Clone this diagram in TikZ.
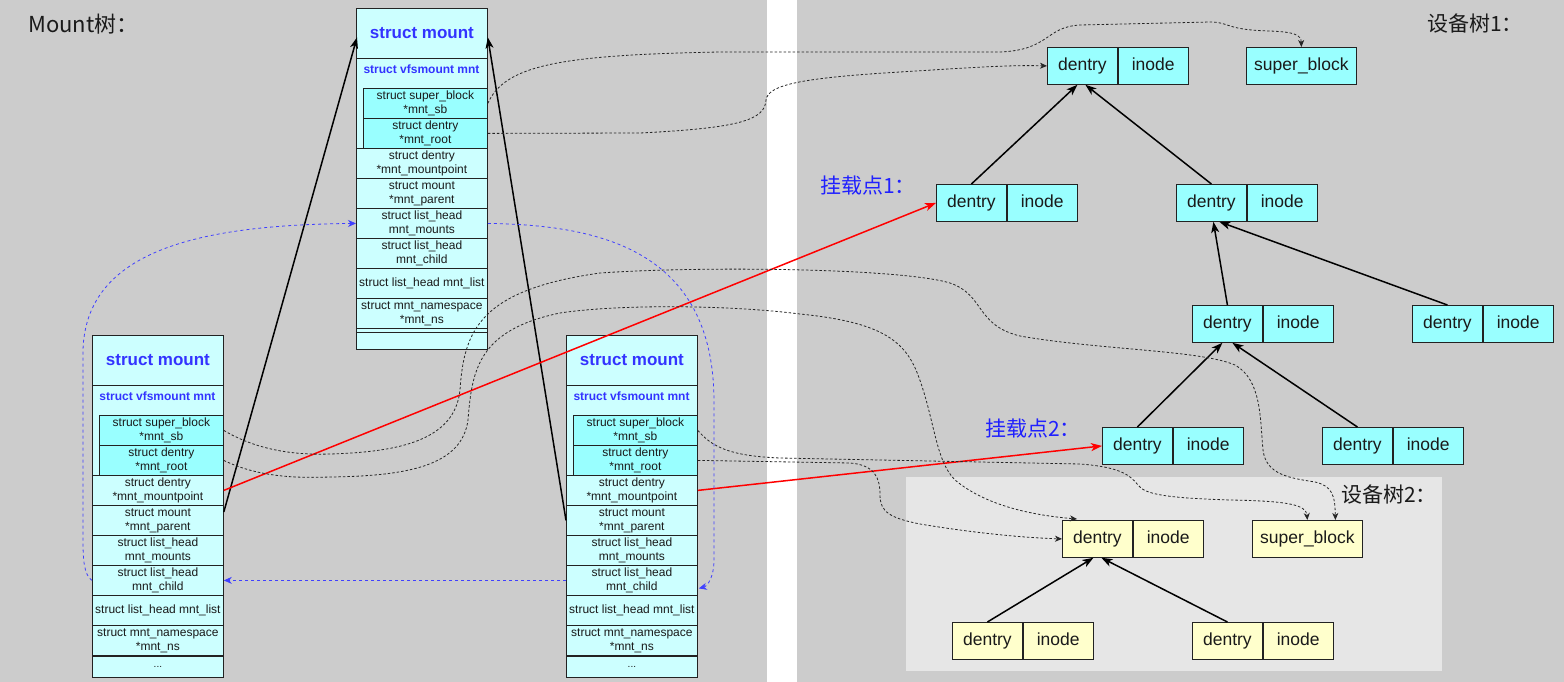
\documentclass[tikz,border=0pt]{standalone}
\usepackage{fontspec}
\setmainfont{Liberation Sans}
\newfontfamily\cjk{Noto Sans CJK SC}
\usetikzlibrary{arrows.meta,calc}
\newcommand\fs[2]{\fontsize{#1}{#2}\selectfont}
\definecolor{bggray}{HTML}{CCCCCC}
\definecolor{panelgray}{HTML}{E6E6E6}
\definecolor{cyanL}{HTML}{CCFFFF}
\definecolor{cyanM}{HTML}{99FFFF}
\definecolor{yel}{HTML}{FFFFCC}
\definecolor{hblue}{HTML}{3333FF}
\definecolor{lblue}{HTML}{2020FF}
\definecolor{dblue}{HTML}{4040FF}
\definecolor{txt}{HTML}{1A1A1A}
\definecolor{linec}{HTML}{222222}
\tikzset{
  fld/.style={draw=linec, line width=0.8pt, fill=cyanL, minimum width=131pt, minimum height=30pt, inner sep=0pt, anchor=north west, align=center, font=\fs{12}{14}, text=txt},
  inbox/.style={fld, fill=cyanM, minimum width=124pt},
  hdr/.style={fld, minimum height=50pt, font=\bfseries\fs{17}{19}, text=hblue},
  vfs/.style={inner sep=0pt, font=\bfseries\fs{12}{14}, text=hblue},
  tn/.style={draw=linec, line width=0.8pt, fill=cyanM, minimum width=70pt, minimum height=37pt, inner sep=0pt, text height=12.5pt, text depth=3.5pt, anchor=north west, font=\fs{17.5}{20}, text=txt},
  lbl/.style={inner sep=0pt, anchor=west, font=\cjk\fs{21}{24}, text=txt},
  tarr/.style={draw=black, line width=1.5pt, -{Stealth[length=11pt,width=8pt,inset=3pt]}},
  rarr/.style={draw=red, line width=1.5pt, -{Stealth[length=11pt,width=8pt,inset=3pt]}},
  dsh/.style={draw=black!85, line width=0.8pt, dash pattern=on 2.5pt off 2pt, -{Stealth[length=7pt,width=6pt,inset=2pt]}},
  bdsh/.style={draw=dblue, line width=0.8pt, dash pattern=on 3pt off 3pt, -{Stealth[length=8pt,width=7pt,inset=2.5pt]}}
}
\newcommand\mstruct[3]{%
\begin{scope}[shift={(#2,#3)}]
\node[fld, minimum height=341pt] (#1-body) at (0,0) {};
\node[hdr] (#1) at (0,0) {struct mount};
\node[vfs] (#1-vfs) at (65.5,61) {struct vfsmount mnt};
\node[inbox] (#1-sb) at (7,80) {struct super\_block\\*mnt\_sb};
\node[inbox] (#1-root) at (7,110) {struct dentry\\*mnt\_root};
\node[fld] (#1-mp) at (0,140) {struct dentry\\*mnt\_mountpoint};
\node[fld] (#1-parent) at (0,170) {struct mount\\*mnt\_parent};
\node[fld] (#1-mounts) at (0,200) {struct list\_head\\mnt\_mounts};
\node[fld] (#1-child) at (0,230) {struct list\_head\\mnt\_child};
\node[fld] (#1-list) at (0,260) {struct list\_head mnt\_list};
\node[fld] (#1-ns) at (0,290) {struct mnt\_namespace\\*mnt\_ns};
\end{scope}}
\newcommand\dpair[4][cyanM]{%
\node[tn, fill=#1] (#2) at (#3,#4) {dentry};
\node[tn, fill=#1] (#2i) at (#2.north east) {inode};}
\begin{document}
\begin{tikzpicture}[x=1pt,y=-1pt]
\useasboundingbox (0,0) rectangle (1564,682);
% panels
\fill[white] (0,0) rectangle (1564,682);
\fill[bggray] (0,0) rectangle (767,682);
\fill[bggray] (797,0) rectangle (1564,682);
\fill[panelgray] (906,477) rectangle (1442,671);
% labels
\node[lbl, font=\cjk\fs{22}{24}] (lmount) at (28,24) {Mount树：};
\node[lbl] (ldev1) at (1427,24) {设备树1：};
\node[lbl] (ldev2) at (1341,495) {设备树2：};
\node[lbl, text=lblue] (lmp1) at (820,186) {挂载点1：};
\node[lbl, text=lblue] (lmp2) at (985,429) {挂载点2：};
% mount structs
\mstruct{T}{356}{8}
\draw[linec, line width=0.8pt] ($(T-ns.south west)+(0,4)$) -- ($(T-ns.south east)+(0,4)$);
\mstruct{L}{92}{335}
\node[fld, minimum height=21pt, font=\fs{10}{12}] (L-dots) at (L-ns.south west) {...};
\mstruct{R}{566}{335}
\node[fld, minimum height=21pt, font=\fs{10}{12}] (R-dots) at (R-ns.south west) {...};
% device tree 1
\dpair{r1}{1047}{47}
\node[tn, minimum width=110pt] (sb1) at (1246,47) {super\_block};
\dpair{a1}{936}{184}
\dpair{b1}{1176}{184}
\dpair{c1}{1192}{305}
\dpair{e1}{1412}{305}
\dpair{f1}{1102}{427}
\dpair{g1}{1322}{427}
% device tree 2
\dpair[yel]{r2}{1062}{520}
\node[tn, fill=yel, minimum width=110pt] (sb2) at (1252,520) {super\_block};
\dpair[yel]{h2}{952}{622}
\dpair[yel]{k2}{1192}{622}
% tree arrows
\draw[tarr] (a1.north) -- ($(r1.south)+(-5,0)$);
\draw[tarr] (b1.north) -- ($(r1.south)+(3,0)$);
\draw[tarr] (c1.north) -- ($(b1.south)+(2,0)$);
\draw[tarr] (e1.north) -- ($(b1.south)+(8,0)$);
\draw[tarr] (f1.north) -- ($(c1.south)+(-5,0)$);
\draw[tarr] (g1.north) -- ($(c1.south)+(5,0)$);
\draw[tarr] (h2.north) -- ($(r2.south)+(-4,0)$);
\draw[tarr] (k2.north) -- ($(r2.south)+(4,0)$);
% mount tree arrows
\draw[tarr] ($(L-parent.north east)+(0,7)$) -- ($(T.west)+(1,4)$);
\draw[tarr] (R-parent.west) -- ($(T.east)+(0,4)$);
% red mount point arrows
\draw[rarr] (L-mp.east) -- (a1.west);
\draw[rarr] (R-mp.east) -- (f1.west);
% blue dashed list links
\draw[bdsh] (L-child.west) .. controls (84,575) and (83,560) .. (83,540) -- (83,350) .. controls (86,250) and (200,225) .. (T-mounts.west);
\draw[bdsh] (T-mounts.east) .. controls (600,225) and (713,250) .. (714,400) -- (714,560) .. controls (714,576) and (708,586) .. ($(R-child.east)+(1,8)$);
\draw[bdsh] (R-child.west) -- (L-child.east);
% black dashed pointer links
\draw[dsh] (T-sb.east) .. controls (505,65) and (560,55) .. (720,52) -- (1000,52) .. controls (1050,50) and (1045,27) .. (1080,25) -- (1210,22) .. controls (1230,22) and (1225,30) .. (1270,31) .. controls (1295,32) and (1301,35) .. (sb1.north);
\draw[dsh] (T-root.east) -- (640,133) .. controls (740,128) and (765,120) .. (766,100) .. controls (768,85) and (800,78) .. (900,72) .. controls (980,67) and (1010,65) .. (r1.west);
\draw[dsh] (L-sb.east) .. controls (260,452) and (300,455) .. (330,454) .. controls (400,452) and (455,440) .. (460,390) .. controls (464,330) and (480,290) .. (600,273) .. controls (700,266) and (900,268) .. (950,283) .. controls (985,295) and (975,325) .. (1020,336) .. controls (1100,350) and (1200,350) .. (1235,365) .. controls (1262,380) and (1260,420) .. (1263,450) .. controls (1266,475) and (1290,478) .. (1315,482) .. controls (1332,486) and (1335,495) .. ($(sb2.north)+(28,0)$);
\draw[dsh] (L-root.east) .. controls (260,478) and (300,478) .. (330,477) .. controls (410,476) and (462,465) .. (468,420) .. controls (472,370) and (478,330) .. (560,313) .. controls (620,304) and (730,305) .. (800,314) .. controls (880,322) and (905,340) .. (918,375) .. controls (935,420) and (935,460) .. (955,480) .. controls (985,505) and (1030,515) .. ($(r2.north west)+(15,-1)$);
\draw[dsh] (R-sb.east) .. controls (712,447) and (730,456) .. (780,458) -- (1080,464) .. controls (1120,467) and (1130,475) .. (1138,485) .. controls (1145,495) and (1170,498) .. (1230,500) .. controls (1290,501) and (1306,505) .. (sb2.north);
\draw[dsh] (R-root.east) -- (850,463) .. controls (875,465) and (880,478) .. (880,495) .. controls (880,512) and (890,518) .. (920,524) .. controls (980,534) and (1030,538) .. (r2.west);
\end{tikzpicture}
\end{document}
